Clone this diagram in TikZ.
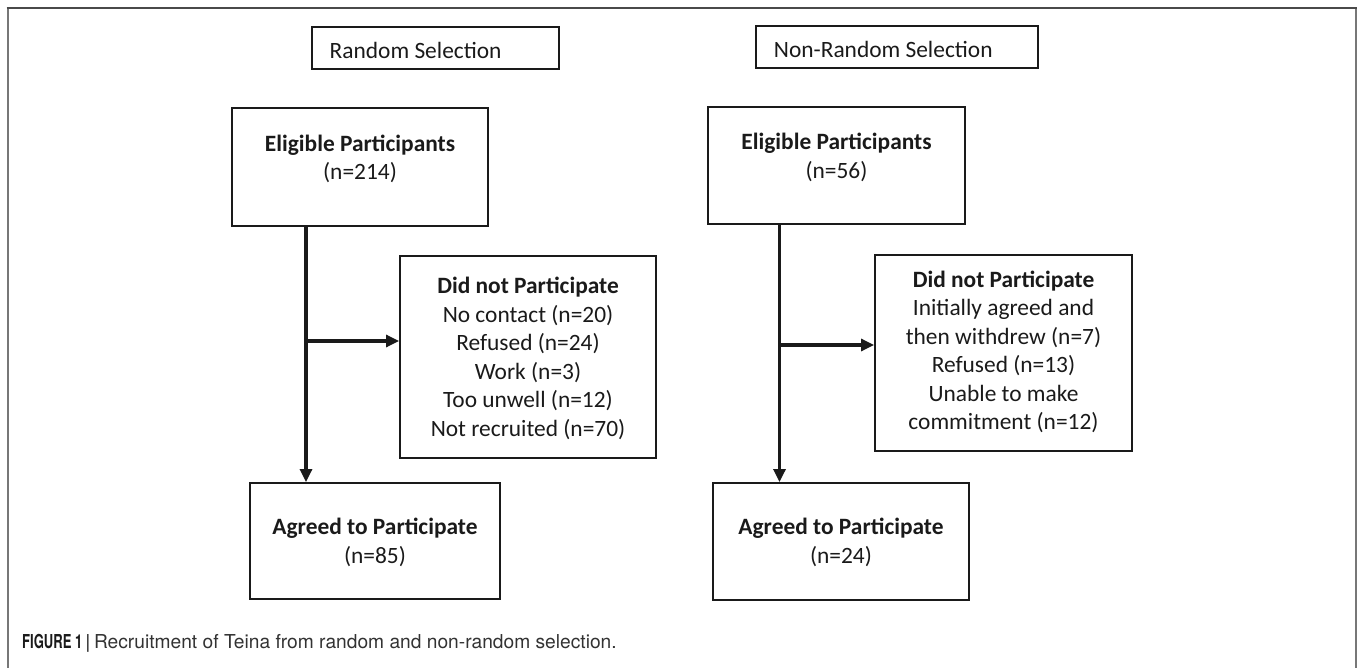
\documentclass[tikz,border=0pt]{standalone}
\usepackage{fontspec}
\setmainfont{Carlito}
\newfontfamily\capfont{TeX Gyre Heros}
\newfontfamily\capcond{TeX Gyre Heros}[FakeStretch=0.68]
\usetikzlibrary{arrows.meta}
\definecolor{ink}{HTML}{1A1A1A}
\definecolor{framec}{HTML}{777777}
\definecolor{frametop}{HTML}{4A4A4A}
\definecolor{capgray}{HTML}{333333}
\tikzset{
  box/.style={draw=ink, line width=1.9pt, rectangle, inner sep=0pt},
  conn/.style={draw=ink, line width=3.1pt, -{Triangle[length=13pt,width=12pt]}},
  txt/.style={font=\fontsize{23.4}{28.5}\selectfont, text=ink, align=center, anchor=base, inner sep=0pt},
  lbl/.style={font=\fontsize{23.4}{28.5}\selectfont, text=ink, anchor=base west, inner sep=0pt},
}
\begin{document}
\begin{tikzpicture}[x=1pt,y=-1pt]
\useasboundingbox (0,0) rectangle (1357,668);
% frame
\draw[framec, line width=2pt] (7.5,668) -- (7.5,8.5);
\draw[framec, line width=2pt] (1355.5,668) -- (1355.5,8.5);
\draw[frametop, line width=2pt] (6.5,8.5) -- (1356.5,8.5);

% ---------- left: random selection ----------
\node[box, minimum width=247pt, minimum height=42pt] (rsL) at (435.5,48) {};
\node[lbl] (rsLt) at (329.5,59) {Random Selection};

\node[box, minimum width=256pt, minimum height=118pt] (elL) at (360,167) {};
\node[txt] (elLt) at (360,180) {\textbf{Eligible Participants}\\(n=214)};

\node[box, minimum width=256pt, minimum height=202pt] (dnL) at (528,357) {};
\node[txt] (dnLt) at (528,436) {\textbf{Did not Participate}\\No contact (n=20)\\Refused (n=24)\\Work (n=3)\\Too unwell (n=12)\\Not recruited (n=70)};

\node[box, minimum width=250pt, minimum height=116pt] (agL) at (375,541) {};
\node[txt] (agLt) at (375,563) {\textbf{Agreed to Participate}\\(n=85)};

\coordinate (jL) at (306,341);
\draw[conn] (elL.south -| jL) -- (agL.north -| jL);
\draw[conn] (jL) -- (jL -| dnL.west);

% ---------- right: non-random selection ----------
\node[box, minimum width=282pt, minimum height=42pt] (rsR) at (897,46.7) {};
\node[lbl] (rsRt) at (773.7,57.3) {Non-Random Selection};

\node[box, minimum width=257pt, minimum height=117pt] (elR) at (836.5,165.5) {};
\node[txt] (elRt) at (836.5,178.5) {\textbf{Eligible Participants}\\(n=56)};

\node[box, minimum width=257pt, minimum height=196pt] (dnR) at (1003.5,353) {};
\node[txt] (dnRt) at (1003.5,429.5) {\textbf{Did not Participate}\\Initially agreed and\\then withdrew (n=7)\\Refused (n=13)\\Unable to make\\commitment (n=12)};

\node[box, minimum width=256pt, minimum height=117pt] (agR) at (841,541.5) {};
\node[txt] (agRt) at (841,563) {\textbf{Agreed to Participate}\\(n=24)};

\coordinate (jR) at (779.5,345);
\draw[conn] (elR.south -| jR) -- (agR.north -| jR);
\draw[conn] (jR) -- (jR -| dnR.west);

% ---------- caption ----------
\node[anchor=base west, inner sep=0pt, font=\fontsize{19.2}{23}\selectfont] (cap) at (22,648.5)
  {{\capcond\bfseries\color{ink}FIGURE 1 |} {\capfont\color{capgray}Recruitment of Teina from random and non-random selection.}};
\end{tikzpicture}
\end{document}
